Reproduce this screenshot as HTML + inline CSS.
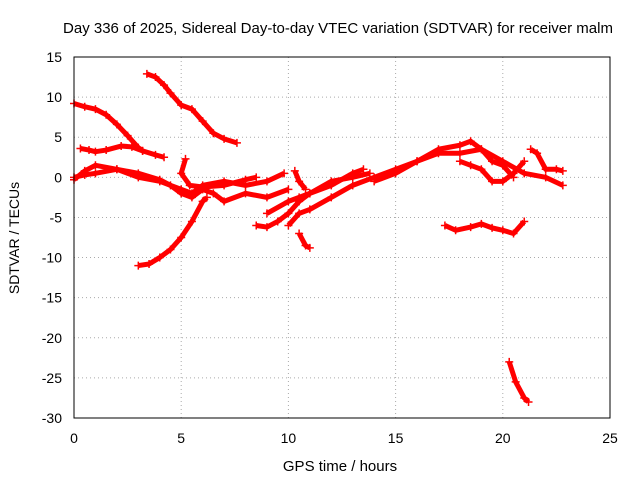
<!DOCTYPE html>
<html><head><meta charset="utf-8"><style>
body{margin:0;background:#fff;font-family:"Liberation Sans",sans-serif}
svg text{font-family:"Liberation Sans",sans-serif;font-size:14px;fill:#000}
</style></head><body>
<svg id="c" width="640" height="480" xmlns="http://www.w3.org/2000/svg">
<text x="338" y="33" text-anchor="middle" style="font-size:15px">Day 336 of 2025, Sidereal Day-to-day VTEC variation (SDTVAR) for receiver malm</text>
<text x="340" y="471" text-anchor="middle" style="font-size:15px">GPS time / hours</text>
<text transform="translate(19,238) rotate(-90)" text-anchor="middle">SDTVAR / TECUs</text>
<g id="grid"></g><g id="ticks"></g><g id="marks"></g>
<rect x="74" y="57" width="536" height="361" fill="none" stroke="#000"/>
</svg>
<script>
const xTicks=[0,5,10,15,20,25];
const yTicks=[15,10,5,0,-5,-10,-15,-20,-25,-30];
const tracks=[
[[0,9.2],[0.5,8.8],[1,8.5],[1.5,7.8],[2,6.6],[2.5,5.2],[3,3.7],[3.2,3.3]],
[[0.3,3.6],[0.7,3.4],[1,3.2],[1.5,3.4],[2.2,3.9],[2.7,3.8],[3.2,3.3],[3.8,2.8],[4.2,2.5]],
[[3.4,12.9],[3.8,12.5],[4.2,11.5],[4.5,10.5],[5,9],[5.5,8.5],[6,7],[6.5,5.5],[7,4.8],[7.6,4.3]],
[[3,-11],[3.5,-10.8],[4,-10],[4.5,-9],[5,-7.5],[5.5,-5.5],[6,-3],[6.2,-2.5]],
[[0,0],[0.5,0.3],[1,0.5],[2,1],[3,0],[4,-0.5],[5,-1.5],[5.5,-2],[6,-1],[7,-0.5],[8,-1],[9,-0.5],[9.8,0.5]],
[[0,-0.3],[0.5,0.8],[1,1.5],[2,1],[3,0.5],[4,-0.3],[4.5,-1],[5,-2],[5.5,-2.5],[6,-1.5],[6.5,-2],[7,-3],[8,-2],[9,-2.5],[10,-1.5]],
[[5.2,2.3],[5,0.5],[5.4,-1],[6,-1.2],[7,-1],[8,-0.3],[8.5,0]],
[[8.5,-6],[9,-6.2],[9.5,-5.5],[10,-4.5],[10.5,-3],[11,-2],[12,-1],[13,0.5],[13.5,1]],
[[9,-4.5],[10,-3],[10.5,-2.5],[11,-2],[12,-0.5],[13,0],[13.8,0.5]],
[[10,-6],[10.5,-4.5],[11,-4],[12,-2.5],[13,-1],[14,0],[15,1],[16,2],[17,3],[18,3],[19,3.5],[20,2],[21,0.5],[22,0],[22.8,-1]],
[[14,-0.5],[15,0.5],[16,2],[17,3.5],[18,4],[18.5,4.5],[19,3.5],[19.5,2],[20,1.5],[20.5,0]],
[[18,2],[18.5,1.5],[19,1],[19.5,-0.5],[20,-0.5],[20.5,0.5],[21,2]],
[[17.3,-6],[17.8,-6.6],[18.5,-6.2],[19,-5.8],[19.5,-6.3],[20,-6.6],[20.5,-7],[21,-5.5]],
[[20.3,-23],[20.6,-25.5],[21,-27.5],[21.2,-28]],
[[21.3,3.5],[21.6,3],[22,1],[22.5,1],[22.8,0.8]],
[[10.5,-7],[10.8,-8.5],[11,-8.8]],
[[10.3,0.8],[10.5,-0.5],[10.8,-1.5]]
];
const X=h=>74+h*536/25, Y=v=>57+(15-v)*361/45;
const NS="http://www.w3.org/2000/svg";
const g=document.getElementById('grid'),tk=document.getElementById('ticks'),m=document.getElementById('marks');
function el(t,a,p){const e=document.createElementNS(NS,t);for(const k in a)e.setAttribute(k,a[k]);p.appendChild(e);return e;}
xTicks.forEach(t=>{const x=X(t);
 if(t>0&&t<25){const l=el('line',{x1:x,x2:x,y1:57,y2:418,stroke:'#aaa','stroke-dasharray':'1,3'},g);
 
 }
 const s=el('text',{x:x,y:443,'text-anchor':'middle'},tk);s.textContent=t;
 
 });
yTicks.forEach(t=>{const y=Y(t);
 if(t<15&&t>-30){const l=el('line',{x1:74,x2:610,y1:y,y2:y,stroke:'#aaa','stroke-dasharray':'1,3'},g);
 
 }
 const s=el('text',{x:62,y:y+5,'text-anchor':'end'},tk);s.textContent=t;
 
 });
tracks.forEach(tr=>{
 const p=el('polyline',{points:tr.map(d=>X(d[0])+','+Y(d[1])).join(' '),fill:'none',stroke:'#f00','stroke-width':5,'stroke-linejoin':'round'},m);
 
 
 tr.forEach(d=>{const x=X(d[0]),y=Y(d[1]);
  const c=el('path',{d:`M${x-4},${y}H${x+4}M${x},${y-4}V${y+4}`,stroke:'#f00','stroke-width':1.5},m);
  
  });
});
</script>
</body></html>
